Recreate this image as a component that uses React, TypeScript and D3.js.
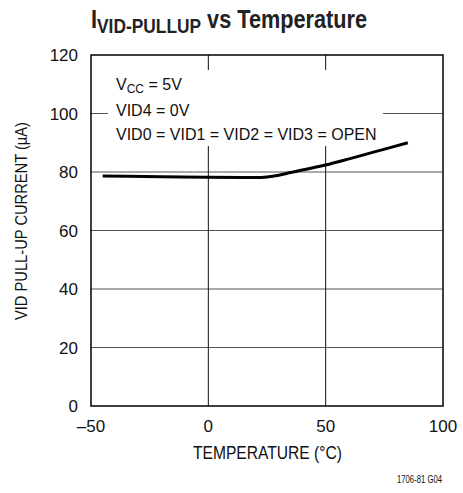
import React from 'react';
import * as d3 from 'd3';

const temps = [-45, -20, 0, 20, 25, 30, 35, 40, 50, 60, 70, 85];
const currents = [78.6, 78.4, 78.2, 78.1, 78.3, 78.9, 79.8, 80.7, 82.4, 84.5, 86.7, 90.0];
const xTicks = [-50, 0, 50, 100];
const yTicks = [0, 20, 40, 60, 80, 100, 120];

const FONT = "'Liberation Sans Narrow', 'Arial Narrow', 'Liberation Sans', sans-serif";

export default function App() {
  const width = 463;
  const height = 493;
  const margin = { top: 55, right: 20, bottom: 87, left: 91 };

  const x = d3.scaleLinear().domain([-50, 100]).range([margin.left, width - margin.right]);
  const y = d3.scaleLinear().domain([0, 120]).range([height - margin.bottom, margin.top]);

  const line = d3.line<number>()
    .x((_, i) => x(temps[i]))
    .y(d => y(d))
    .curve(d3.curveMonotoneX);

  const x0 = x(-50), x1 = x(100), y0 = y(0), y1 = y(120);

  return (
    <div style={{ position: 'absolute', left: 0, top: 0 }}>
      <svg width={width} height={height} style={{ display: 'block', fontFamily: FONT }}>
        <rect width={width} height={height} fill="#fff" />

        {/* title */}
        <text x={91} y={28} fontWeight="bold" fontSize={25} fill="#222"
          textLength={276} lengthAdjust="spacingAndGlyphs">
          I<tspan fontSize={20} dy={5}>VID-PULLUP</tspan>
          <tspan dy={-5} fontSize={25}> vs Temperature</tspan>
        </text>

        {/* grid */}
        {yTicks.filter(t => t > 0 && t < 120).map(t => (
          <line key={'gy' + t} x1={x0} x2={x1} y1={y(t)} y2={y(t)} stroke="#555" strokeWidth={1} />
        ))}
        {xTicks.filter(t => t > -50 && t < 100).map(t => (
          <line key={'gx' + t} x1={x(t)} x2={x(t)} y1={y0} y2={y1} stroke="#111" strokeWidth={1} />
        ))}

        {/* annotation box */}
        <rect x={108} y={70} width={275} height={76} fill="#fff" />
        <text fontSize={16} fill="#111">
          <tspan x={116} y={90}>V<tspan fontSize={12} dy={3}>CC</tspan><tspan dy={-3}> = 5V</tspan></tspan>
          <tspan x={116} y={116}>VID4 = 0V</tspan>
          <tspan x={116} y={140}>VID0 = VID1 = VID2 = VID3 = OPEN</tspan>
        </text>

        {/* curve */}
        <path d={line(currents) || ''} fill="none" stroke="#000" strokeWidth={3} />

        {/* frame */}
        <rect x={x0} y={y1} width={x1 - x0} height={y0 - y1} fill="none" stroke="#000" strokeWidth={1.5} />

        {/* y ticks */}
        {yTicks.map(t => (
          <text key={'ty' + t} x={78} y={y(t) + 6} textAnchor="end" fontSize={17} fill="#111">{t}</text>
        ))}
        {/* x ticks */}
        {xTicks.map(t => (
          <text key={'tx' + t} x={x(t)} y={432} textAnchor="middle" fontSize={17} fill="#111">
            {t < 0 ? '\u2013' + Math.abs(t) : t}
          </text>
        ))}

        <text x={193} y={459} fontSize={18} fill="#111" textLength={149} lengthAdjust="spacingAndGlyphs">
          TEMPERATURE (°C)
        </text>
        <text transform="translate(27,320) rotate(-90)" fontSize={17} fill="#111"
          textLength={198} lengthAdjust="spacingAndGlyphs">
          VID PULL-UP CURRENT (µA)
        </text>
        <text x={397} y={483} fontSize={11} fill="#111" textLength={45} lengthAdjust="spacingAndGlyphs">1706-81 G04</text>
      </svg>
    </div>
  );
}
